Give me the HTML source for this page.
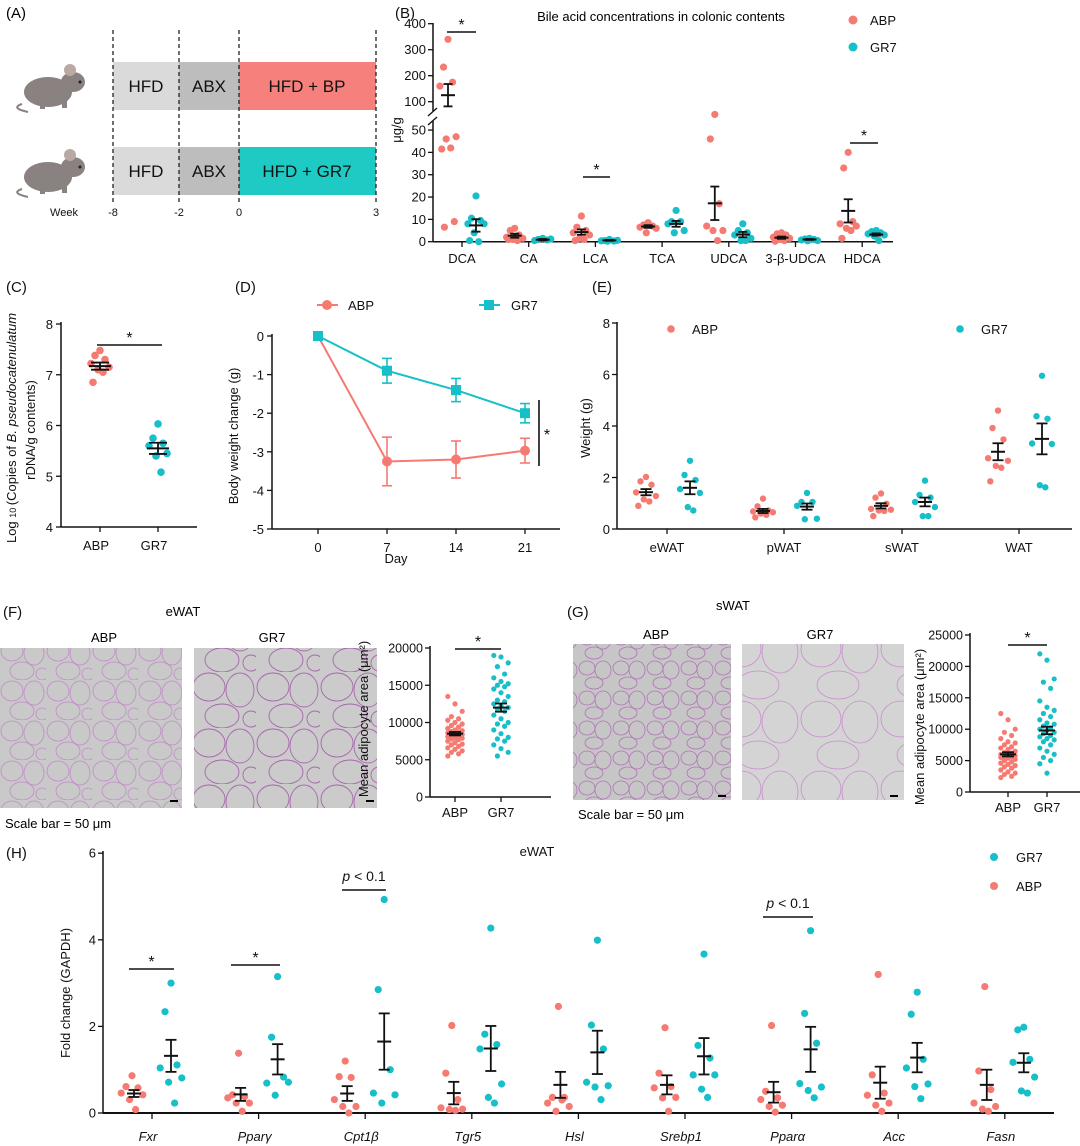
<!DOCTYPE html>
<html><head><meta charset="utf-8">
<style>
html,body{margin:0;padding:0;background:#fff;}
svg{display:block;font-family:"Liberation Sans",Arial,sans-serif;}
</style></head>
<body>
<svg id="fig" xmlns="http://www.w3.org/2000/svg" width="1080" height="1146" viewBox="0 0 1080 1146">
<defs>
<pattern id="cellsA" width="46" height="40" patternUnits="userSpaceOnUse">
<rect width="46" height="40" fill="#c9c9c9"/>
<ellipse cx="12" cy="11" rx="11" ry="10" fill="none" stroke="#c08ac8" stroke-width="0.8"/>
<ellipse cx="34" cy="13" rx="10" ry="12" fill="none" stroke="#c08ac8" stroke-width="0.8"/>
<ellipse cx="22" cy="31" rx="12" ry="9" fill="none" stroke="#c08ac8" stroke-width="0.8"/>
<ellipse cx="42" cy="34" rx="6" ry="6" fill="none" stroke="#c08ac8" stroke-width="0.8"/>
</pattern>
<pattern id="cellsB" width="64" height="56" patternUnits="userSpaceOnUse">
<rect width="64" height="56" fill="#cbcbcb"/>
<ellipse cx="17" cy="15" rx="16" ry="14" fill="none" stroke="#a865ae" stroke-width="0.9"/>
<ellipse cx="48" cy="18" rx="14" ry="17" fill="none" stroke="#a865ae" stroke-width="0.9"/>
<ellipse cx="30" cy="44" rx="17" ry="12" fill="none" stroke="#a865ae" stroke-width="0.9"/>
<ellipse cx="59" cy="47" rx="8" ry="8" fill="none" stroke="#a865ae" stroke-width="0.9"/>
</pattern>
<pattern id="cellsC" width="34" height="30" patternUnits="userSpaceOnUse">
<rect width="34" height="30" fill="#c6c6c6"/>
<ellipse cx="9" cy="8" rx="8" ry="7" fill="none" stroke="#b272b9" stroke-width="0.8"/>
<ellipse cx="25" cy="10" rx="8" ry="9" fill="none" stroke="#b272b9" stroke-width="0.8"/>
<ellipse cx="16" cy="23" rx="9" ry="6" fill="none" stroke="#b272b9" stroke-width="0.8"/>
</pattern>
<pattern id="cellsD" width="80" height="70" patternUnits="userSpaceOnUse">
<rect width="80" height="70" fill="#d4d4d4"/>
<ellipse cx="21" cy="19" rx="20" ry="18" fill="none" stroke="#c98ccf" stroke-width="0.8"/>
<ellipse cx="60" cy="22" rx="18" ry="21" fill="none" stroke="#c98ccf" stroke-width="0.8"/>
<ellipse cx="38" cy="55" rx="21" ry="14" fill="none" stroke="#c98ccf" stroke-width="0.8"/>
</pattern>
</defs>

<!-- Panel A -->
<g>
<text x="6" y="18" font-size="15">(A)</text>
<g fill="#8a8280">
<path d="M22 104 Q10 108 28 112" stroke="#8a8280" stroke-width="2" fill="none"/>
<ellipse cx="48" cy="92" rx="24" ry="15"/>
<ellipse cx="73" cy="82" rx="12" ry="10"/>
<circle cx="70" cy="70" r="6" fill="#b9a8a4"/>
<circle cx="80" cy="82" r="1.5" fill="#222"/>
<rect x="40" y="103" width="5" height="6"/><rect x="62" y="99" width="5" height="9"/>
</g>
<g fill="#8a8280">
<path d="M22 189 Q10 193 28 197" stroke="#8a8280" stroke-width="2" fill="none"/>
<ellipse cx="48" cy="177" rx="24" ry="15"/>
<ellipse cx="73" cy="167" rx="12" ry="10"/>
<circle cx="70" cy="155" r="6" fill="#b9a8a4"/>
<circle cx="80" cy="167" r="1.5" fill="#222"/>
<rect x="40" y="188" width="5" height="6"/><rect x="62" y="184" width="5" height="9"/>
</g>
<rect x="113" y="62" width="66" height="48" fill="#dadada"/>
<rect x="179" y="62" width="60" height="48" fill="#bdbdbd"/>
<rect x="239" y="62" width="137" height="48" fill="#f6817c"/>
<rect x="113" y="147" width="66" height="48" fill="#dadada"/>
<rect x="179" y="147" width="60" height="48" fill="#bdbdbd"/>
<rect x="239" y="147" width="137" height="48" fill="#1ecac4"/>
<g font-size="17" text-anchor="middle" fill="#111">
<text x="146" y="92">HFD</text>
<text x="209" y="92">ABX</text>
<text x="307" y="92">HFD + BP</text>
<text x="146" y="177">HFD</text>
<text x="209" y="177">ABX</text>
<text x="307" y="177">HFD + GR7</text>
</g>
<g stroke="#222" stroke-width="1.3" stroke-dasharray="4,3">
<line x1="113" y1="30" x2="113" y2="203"/><line x1="179" y1="30" x2="179" y2="203"/>
<line x1="239" y1="30" x2="239" y2="203"/><line x1="376" y1="30" x2="376" y2="203"/>
</g>
<g font-size="11" text-anchor="middle" fill="#111">
<text x="64" y="216">Week</text>
<text x="113" y="216">-8</text>
<text x="179" y="216">-2</text>
<text x="239" y="216">0</text>
<text x="376" y="216">3</text>
</g>
</g>

<!-- Panel labels / titles -->
<g font-size="15" fill="#111">
<text x="395" y="18">(B)</text>
<text x="6" y="292">(C)</text>
<text x="235" y="292">(D)</text>
<text x="592" y="292">(E)</text>
<text x="3" y="617">(F)</text>
<text x="567" y="617">(G)</text>
<text x="6" y="858">(H)</text>
</g>
<text x="661" y="21" font-size="13" text-anchor="middle">Bile acid concentrations in colonic contents</text>

<!-- Histology images -->
<g>
<text x="183" y="616" font-size="13" text-anchor="middle">eWAT</text>
<text x="104" y="642" font-size="13" text-anchor="middle">ABP</text>
<text x="272" y="642" font-size="13" text-anchor="middle">GR7</text>
<rect x="0" y="648" width="182" height="160" fill="url(#cellsA)"/>
<rect x="194" y="648" width="183" height="160" fill="url(#cellsB)"/>
<rect x="170" y="800" width="8" height="2" fill="#000"/><rect x="366" y="800" width="8" height="2" fill="#000"/>
<text x="5" y="828" font-size="13">Scale bar = 50 μm</text>
</g>
<g>
<text x="733" y="610" font-size="13" text-anchor="middle">sWAT</text>
<text x="656" y="639" font-size="13" text-anchor="middle">ABP</text>
<text x="820" y="639" font-size="13" text-anchor="middle">GR7</text>
<rect x="573" y="644" width="158" height="156" fill="url(#cellsC)"/>
<rect x="742" y="644" width="162" height="156" fill="url(#cellsD)"/>
<rect x="718" y="795" width="8" height="2" fill="#000"/><rect x="890" y="795" width="8" height="2" fill="#000"/>
<text x="578" y="819" font-size="13">Scale bar = 50 μm</text>
</g>
<g id="charts"></g>
</svg>

<script>
// ---------- data ----------
const ABP_COLOR = '#f47a72', GR7_COLOR = '#17bfc8';
// Panel B
const bCats = ['DCA','CA','LCA','TCA','UDCA','3-β-UDCA','HDCA'];
const bAbp = [[340,233,175,160,47,46,42,41.5,9,6.5],[6,5,3,2,1.5,1,0.5,1],[11.5,6.5,5,4,3,1.5,1,0.5],[8.5,7.5,7,6.5,6,4],[57,46,17,7,5,5,0.5],[4,3.5,3,2,1.5,1,0.5,0.2],[40,33,9,8,7,6,5,1.5]];
const bGr7 = [[20.5,10.5,9.5,8,8,4,0,0.5],[1.5,1,0.8,0.5,1.2],[1,0.5,0.3,0.4,0.6,0.2],[14,9,9,8,5,4],[8,5,4,3,1.5,0.5,0.5],[1.5,1.2,1,0.8,0.5,0.4],[5,4.5,4,3.5,3,2.5,0.5]];
const bAbpMean = [125,2.7,4.3,6.8,17.2,1.8,13.8];
const bAbpSem = [43,0.9,1.2,0.6,7.5,0.5,5.2];
const bGr7Mean = [7.3,0.9,0.6,8,3.2,1,3.2];
const bGr7Sem = [2.8,0.3,0.2,1.3,1.2,0.2,0.5];
const bLowTicks = [0,10,20,30,40,50];
const bHighTicks = [100,200,300,400];
// Panel C
const cCats = ['ABP','GR7'];
const cValues = [[7.48,7.38,7.3,7.22,7.15,7.1,7.05,6.85],[6.03,5.75,5.65,5.6,5.45,5.4,5.08]];
const cMean = [7.17,5.55];
const cSem = [0.07,0.11];
const cTicks = [4,5,6,7,8];
// Panel D
const dDays = [0,7,14,21];
const dAbp = [0,-3.25,-3.2,-2.97];
const dAbpErr = [0,0.63,0.48,0.32];
const dGr7 = [0,-0.9,-1.4,-2.0];
const dGr7Err = [0,0.32,0.3,0.25];
const dTicks = [0,-1,-2,-3,-4,-5];
// Panel E
const eCats = ['eWAT','pWAT','sWAT','WAT'];
const eAbp = [[2.02,1.85,1.72,1.42,1.28,1.15,1.07,0.9],[1.18,0.88,0.72,0.68,0.65,0.6,0.55,0.45],[1.38,1.22,0.98,0.78,0.75,0.72,0.7,0.5],[4.6,3.92,3.48,2.75,2.65,2.45,2.38,1.85]];
const eGr7 = [[2.65,2.1,1.9,1.55,1.4,0.85,0.72],[1.4,1.05,1.05,0.9,0.4,0.38],[1.88,1.32,1.22,1.05,0.85,0.5,0.5],[5.95,4.38,4.28,3.32,3.3,1.7,1.62]];
const eAbpMean = [1.43,0.7,0.9,3.0];
const eAbpSem = [0.12,0.08,0.1,0.33];
const eGr7Mean = [1.6,0.87,1.05,3.5];
const eGr7Sem = [0.25,0.12,0.17,0.6];
const eTicks = [0,2,4,6,8];
// Panel F
const fAbp = [13500,12500,11500,10800,10500,10300,10000,9800,9600,9400,9200,9000,8900,8800,8700,8600,8500,8400,8300,8200,8100,8000,7900,7800,7700,7500,7300,7100,7000,6800,6600,6400,6200,6000,5800,5500];
const fGr7 = [19000,18800,18000,17500,16500,16000,15500,15200,15000,14800,14500,14000,13500,13000,12800,12500,12200,12000,11800,11500,11000,10500,10000,9800,9500,9000,8500,8000,7800,7500,7000,6500,6000,5500];
const fMean = [8500,12000];
const fSem = [230,550];
const fTicks = [0,5000,10000,15000,20000];
// Panel G
const gAbp = [12500,11500,10000,9500,9000,8500,8000,7800,7500,7200,7000,6800,6500,6300,6200,6000,5900,5800,5700,5600,5500,5400,5200,5000,4800,4600,4400,4200,4000,3800,3500,3200,3000,2800,2500,2300];
const gGr7 = [22000,21000,18000,17500,16500,14500,13500,13000,12500,12000,11500,11000,10800,10500,10200,10000,9800,9500,9300,9000,8800,8500,8300,8000,7500,7000,6500,6000,5500,5000,4500,3000];
const gMean = [6000,9800];
const gSem = [330,600];
const gTicks = [0,5000,10000,15000,20000,25000];
// Panel H
const hCats = ['Fxr','Pparγ','Cpt1β','Tgr5','Hsl','Srebp1','Pparα','Acc','Fasn'];
const hAbp = [[0.86,0.61,0.58,0.46,0.42,0.31,0.08],[1.38,0.42,0.38,0.35,0.23,0.23,0.04],[1.2,0.84,0.82,0.31,0.15,0.15,0],[2.02,0.92,0.31,0.12,0.09,0.08,0.06],[2.46,0.36,0.36,0.23,0.15,0.04,0.3],[1.97,0.92,0.61,0.58,0.36,0.35,0.04],[2.02,0.5,0.35,0.31,0.18,0.15,0.02],[3.2,0.88,0.46,0.41,0.23,0.18,0.04],[2.92,0.97,0.54,0.23,0.15,0.09,0.04]];
const hGr7 = [[3.0,2.34,1.11,1.04,0.81,0.71,0.23],[3.15,1.75,0.83,0.69,0.71,0.41],[4.93,2.85,1.0,0.46,0.42,0.23],[4.27,1.82,1.58,1.48,0.67,0.36,0.23],[3.99,2.03,1.48,0.71,0.63,0.6,0.31],[3.67,1.56,1.27,0.88,0.88,0.55,0.36],[4.21,2.3,1.61,0.68,0.6,0.52,0.35],[2.79,2.28,1.24,1.04,0.67,0.61,0.33],[1.98,1.92,1.24,1.17,0.83,0.51,0.46]];
const hAbpMean = [0.45,0.43,0.45,0.46,0.65,0.65,0.48,0.7,0.65];
const hAbpSem = [0.08,0.15,0.17,0.26,0.3,0.22,0.24,0.37,0.35];
const hGr7Mean = [1.32,1.24,1.65,1.49,1.4,1.31,1.47,1.28,1.16];
const hGr7Sem = [0.37,0.35,0.65,0.52,0.5,0.42,0.52,0.34,0.22];
const hTicks = [0,2,4,6];

// ---------- helpers ----------
const NS = 'http://www.w3.org/2000/svg';
const root = document.getElementById('charts');
function el(tag, attrs, name, parent) {
  const e = document.createElementNS(NS, tag);
  for (const k in attrs) e.setAttribute(k, attrs[k]);
  
  
  (parent || root).appendChild(e);
  return e;
}
function txt(x, y, s, size, anchor, name, extra) {
  const a = Object.assign({x: x, y: y, 'font-size': size, 'text-anchor': anchor || 'middle', fill: '#111'}, extra || {});
  const t = el('text', a, name);
  t.textContent = s;
  return t;
}
function line(x1, y1, x2, y2, w, name, color) {
  return el('line', {x1: x1, y1: y1, x2: x2, y2: y2, stroke: color || '#111', 'stroke-width': w}, name);
}
function dot(x, y, r, c, name) { return el('circle', {cx: x, cy: y, r: r, fill: c}, name); }
function errBar(x, yMean, yLo, yHi, mw, cw, name) {
  line(x, yLo, x, yHi, 1.8, name + '-whisker');
  line(x - mw / 2, yMean, x + mw / 2, yMean, 2, name + '-mean');
  line(x - cw / 2, yLo, x + cw / 2, yLo, 1.8, name + '-cap-low');
  line(x - cw / 2, yHi, x + cw / 2, yHi, 1.8, name + '-cap-high');
}
function sig(x1, x2, y, label, name, italicP) {
  line(x1, y, x2, y, 1.6, name + '-line');
  if (italicP) {
    const t = txt((x1 + x2) / 2, y - 9, '', 14, 'middle', name + '-label');
    const s1 = document.createElementNS(NS, 'tspan'); s1.setAttribute('font-style', 'italic'); s1.textContent = 'p'; t.appendChild(s1);
    const s2 = document.createElementNS(NS, 'tspan'); s2.textContent = ' < 0.1'; t.appendChild(s2);
  } else txt((x1 + x2) / 2, y - 2, label, 16, 'middle', name + '-star');
}
const jit = [0, -5, 5, -9, 9, -2, 3, -7, 7, -4];

// ---------- Panel B ----------
(function () {
  const ax = 433, x0 = 462, step = 66.7, xEnd = 893;
  const yB = v => v <= 60 ? 241.7 - v * 2.233 : 101.7 - (v - 100) * 0.26;
  line(ax, 23, ax, 111, 1.5, 'b-y-axis-upper');
  line(ax, 121, ax, 242, 1.5, 'b-y-axis-lower');
  line(ax - 5, 116, ax + 4, 108, 1.3, 'b-axis-break-1');
  line(ax - 5, 125, ax + 4, 117, 1.3, 'b-axis-break-2');
  line(ax, 241.7, xEnd, 241.7, 1.5, 'b-x-axis');
  bLowTicks.concat(bHighTicks).forEach(v => {
    line(ax - 5, yB(v), ax, yB(v), 1.3, 'b-y-tick');
    txt(ax - 7, yB(v) + 4.5, String(v), 13, 'end', 'b-y-tick-label');
  });
  txt(0, 0, 'μg/g', 13, 'middle', 'b-y-axis-title', {transform: 'translate(401,130) rotate(-90)'});
  bCats.forEach((c, i) => {
    const cx = x0 + i * step;
    line(cx, 241.7, cx, 247, 1.3, 'b-x-tick');
    txt(cx, 263, c, 13, 'middle', 'b-x-tick-label');
    bAbp[i].forEach((v, j) => dot(cx - 14 + jit[j % 10] * 0.9, yB(v), 3.6, ABP_COLOR, 'b-abp-point'));
    bGr7[i].forEach((v, j) => dot(cx + 14 + jit[j % 10] * 0.9, yB(v), 3.6, GR7_COLOR, 'b-gr7-point'));
    errBar(cx - 14, yB(bAbpMean[i]), yB(bAbpMean[i] - bAbpSem[i]), yB(bAbpMean[i] + bAbpSem[i]), 14, 9, 'b-abp-errorbar');
    errBar(cx + 14, yB(bGr7Mean[i]), yB(bGr7Mean[i] - bGr7Sem[i]), yB(bGr7Mean[i] + bGr7Sem[i]), 14, 9, 'b-gr7-errorbar');
  });
  sig(447, 476, 32, '*', 'b-sig-dca');
  sig(583, 610, 177, '*', 'b-sig-lca');
  sig(850, 878, 143, '*', 'b-sig-hdca');
  dot(853, 20, 4.5, ABP_COLOR, 'b-legend-abp-marker');
  txt(870, 25, 'ABP', 13, 'start', 'b-legend-abp-label');
  dot(853, 47, 4.5, GR7_COLOR, 'b-legend-gr7-marker');
  txt(870, 52, 'GR7', 13, 'start', 'b-legend-gr7-label');
})();

// ---------- Panel C ----------
(function () {
  const ax = 61, yC = v => 527 - (v - 4) * 50.75, xs = [100, 158];
  line(ax, 322, ax, 527, 1.5, 'c-y-axis');
  line(ax, 527, 197, 527, 1.5, 'c-x-axis');
  cTicks.forEach(v => { line(ax - 5, yC(v), ax, yC(v), 1.3, 'c-y-tick'); txt(ax - 8, yC(v) + 5, String(v), 13, 'end', 'c-y-tick-label'); });
  cCats.forEach((c, i) => {
    line(xs[i], 527, xs[i], 532, 1.3, 'c-x-tick');
    txt(xs[i] - 4, 550, c, 13, 'middle', 'c-x-tick-label');
    const col = i === 0 ? ABP_COLOR : GR7_COLOR;
    cValues[i].forEach((v, j) => dot(xs[i] + jit[j % 10], yC(v), 3.8, col, 'c-point'));
    errBar(xs[i], yC(cMean[i]), yC(cMean[i] - cSem[i]), yC(cMean[i] + cSem[i]), 22, 18, 'c-errorbar');
  });
  sig(97, 162, 345, '*', 'c-sig');
  const t = txt(0, 0, '', 13, 'middle', 'c-y-axis-title-1', {transform: 'translate(16,428) rotate(-90)'});
  const a = document.createElementNS(NS, 'tspan'); a.textContent = 'Log '; t.appendChild(a);
  const b = document.createElementNS(NS, 'tspan'); b.setAttribute('font-size', '9'); b.textContent = '10 '; t.appendChild(b);
  const c2 = document.createElementNS(NS, 'tspan'); c2.textContent = '(Copies of  '; t.appendChild(c2);
  const d = document.createElementNS(NS, 'tspan'); d.setAttribute('font-style', 'italic'); d.textContent = 'B. pseudocatenulatum'; t.appendChild(d);
  txt(0, 0, 'rDNA/g contents)', 13, 'middle', 'c-y-axis-title-2', {transform: 'translate(35,430) rotate(-90)'});
})();

// ---------- Panel D ----------
(function () {
  const ax = 272, xD = d => 318 + d * (525 - 318) / 21, yD = v => 336 - v * 38.6;
  line(ax, 334, ax, 529, 1.5, 'd-y-axis');
  line(ax, 529, 560, 529, 1.5, 'd-x-axis');
  dTicks.forEach(v => { line(ax - 5, yD(v), ax, yD(v), 1.3, 'd-y-tick'); txt(ax - 8, yD(v) + 5, String(v), 13, 'end', 'd-y-tick-label'); });
  dDays.forEach(d => { line(xD(d), 529, xD(d), 534, 1.3, 'd-x-tick'); txt(xD(d), 552, String(d), 13, 'middle', 'd-x-tick-label'); });
  txt(396, 563, 'Day', 13, 'middle', 'd-x-axis-title');
  txt(0, 0, 'Body weight change (g)', 13, 'middle', 'd-y-axis-title', {transform: 'translate(238,436) rotate(-90)'});
  const drawSeries = (vals, errs, col, sq, nm) => {
    el('polyline', {points: dDays.map((d, i) => xD(d) + ',' + yD(vals[i])).join(' '), fill: 'none', stroke: col, 'stroke-width': 2}, nm + '-line');
    dDays.forEach((d, i) => {
      const x = xD(d);
      if (errs[i] > 0) {
        line(x, yD(vals[i] - errs[i]), x, yD(vals[i] + errs[i]), 1.6, nm + '-errorbar', col);
        line(x - 5, yD(vals[i] - errs[i]), x + 5, yD(vals[i] - errs[i]), 1.6, nm + '-errorcap', col);
        line(x - 5, yD(vals[i] + errs[i]), x + 5, yD(vals[i] + errs[i]), 1.6, nm + '-errorcap', col);
      }
      if (sq) el('rect', {x: x - 5, y: yD(vals[i]) - 5, width: 10, height: 10, fill: col}, nm + '-marker');
      else dot(x, yD(vals[i]), 5, col, nm + '-marker');
    });
  };
  drawSeries(dAbp, dAbpErr, ABP_COLOR, false, 'd-abp');
  drawSeries(dGr7, dGr7Err, GR7_COLOR, true, 'd-gr7');
  line(539, 400, 539, 466, 1.6, 'd-sig-line');
  txt(547, 440, '*', 16, 'middle', 'd-sig-star');
  line(317, 305, 338, 305, 2, 'd-legend-abp-line', ABP_COLOR);
  dot(327, 305, 5, ABP_COLOR, 'd-legend-abp-marker');
  txt(348, 310, 'ABP', 13, 'start', 'd-legend-abp-label');
  line(479, 305, 500, 305, 2, 'd-legend-gr7-line', GR7_COLOR);
  el('rect', {x: 484, y: 300, width: 10, height: 10, fill: GR7_COLOR}, 'd-legend-gr7-marker');
  txt(511, 310, 'GR7', 13, 'start', 'd-legend-gr7-label');
})();

// ---------- Panel E ----------
(function () {
  const ax = 617, yE = v => 529 - v * 25.75, xs = [667, 784, 902, 1019];
  line(ax, 322, ax, 529, 1.5, 'e-y-axis');
  line(ax, 529, 1072, 529, 1.5, 'e-x-axis');
  eTicks.forEach(v => { line(ax - 5, yE(v), ax, yE(v), 1.3, 'e-y-tick'); txt(ax - 7, yE(v) + 5, String(v), 13, 'end', 'e-y-tick-label'); });
  txt(0, 0, 'Weight (g)', 13, 'middle', 'e-y-axis-title', {transform: 'translate(590,428) rotate(-90)'});
  eCats.forEach((c, i) => {
    line(xs[i], 529, xs[i], 534, 1.3, 'e-x-tick');
    txt(xs[i], 552, c, 13, 'middle', 'e-x-tick-label');
    eAbp[i].forEach((v, j) => dot(xs[i] - 21 + jit[j % 10] * 1.1, yE(v), 3.2, ABP_COLOR, 'e-abp-point'));
    eGr7[i].forEach((v, j) => dot(xs[i] + 23 + jit[j % 10] * 1.1, yE(v), 3.2, GR7_COLOR, 'e-gr7-point'));
    errBar(xs[i] - 21, yE(eAbpMean[i]), yE(eAbpMean[i] - eAbpSem[i]), yE(eAbpMean[i] + eAbpSem[i]), 14, 11, 'e-abp-errorbar');
    errBar(xs[i] + 23, yE(eGr7Mean[i]), yE(eGr7Mean[i] - eGr7Sem[i]), yE(eGr7Mean[i] + eGr7Sem[i]), 14, 11, 'e-gr7-errorbar');
  });
  dot(671, 329, 3.8, ABP_COLOR, 'e-legend-abp-marker');
  txt(692, 334, 'ABP', 13, 'start', 'e-legend-abp-label');
  dot(960, 329, 3.8, GR7_COLOR, 'e-legend-gr7-marker');
  txt(981, 334, 'GR7', 13, 'start', 'e-legend-gr7-label');
})();

// ---------- Panels F & G scatter ----------
function adipo(ax, y0, yTop, maxV, xEnd, xs, data, means, sems, ticks, sigY, titleX, titleY, pfx) {
  const yS = v => y0 - v * (y0 - yTop) / maxV;
  line(ax, yTop - 2, ax, y0, 1.5, pfx + '-y-axis');
  line(ax, y0, xEnd, y0, 1.5, pfx + '-x-axis');
  ticks.forEach(v => { line(ax - 5, yS(v), ax, yS(v), 1.3, pfx + '-y-tick'); txt(ax - 7, yS(v) + 4.5, String(v), 12.5, 'end', pfx + '-y-tick-label'); });
  ['ABP', 'GR7'].forEach((c, i) => {
    line(xs[i], y0, xs[i], y0 + 5, 1.3, pfx + '-x-tick');
    txt(xs[i], y0 + 20, c, 13, 'middle', pfx + '-x-tick-label');
    const col = i === 0 ? ABP_COLOR : GR7_COLOR;
    data[i].forEach((v, j) => dot(xs[i] + ((j * 7) % 5 - 2) * 3.6, yS(v), 2.6, col, pfx + '-point'));
    errBar(xs[i], yS(means[i]), yS(means[i] - sems[i]), yS(means[i] + sems[i]), 16, 12, pfx + '-errorbar');
  });
  sig(xs[0], xs[1], sigY, '*', pfx + '-sig');
  txt(0, 0, 'Mean adipocyte area  (μm²)', 13, 'middle', pfx + '-y-axis-title', {transform: 'translate(' + titleX + ',' + titleY + ') rotate(-90)'});
}
adipo(430, 797, 648, 20000, 551, [455, 501], [fAbp, fGr7], fMean, fSem, fTicks, 649, 368, 719, 'f');
adipo(970, 792, 635, 25000, 1080, [1008, 1047], [gAbp, gGr7], gMean, gSem, gTicks, 645, 924, 727, 'g');

// ---------- Panel H ----------
(function () {
  const ax = 103, yH = v => 1113 - v * 43.3, x0 = 152, step = 106.6;
  line(ax, 851, ax, 1113, 1.5, 'h-y-axis');
  line(ax, 1113, 1054, 1113, 2, 'h-x-axis');
  hTicks.forEach(v => { line(ax - 5, yH(v), ax, yH(v), 1.3, 'h-y-tick'); txt(ax - 7, yH(v) + 4.5, String(v), 13, 'end', 'h-y-tick-label'); });
  txt(0, 0, 'Fold change (GAPDH)', 13, 'middle', 'h-y-axis-title', {transform: 'translate(70,993) rotate(-90)'});
  txt(537, 856, 'eWAT', 13, 'middle', 'h-title');
  hCats.forEach((c, i) => {
    const cx = x0 + i * step;
    line(cx, 1113, cx, 1119, 1.3, 'h-x-tick');
    txt(cx - 4, 1141, c, 13, 'middle', 'h-x-tick-label', {'font-style': 'italic'});
    hAbp[i].forEach((v, j) => dot(cx - 20 + jit[j % 10] * 1.2, yH(v), 3.6, ABP_COLOR, 'h-abp-point'));
    hGr7[i].forEach((v, j) => dot(cx + 19 + jit[j % 10] * 1.2, yH(v), 3.6, GR7_COLOR, 'h-gr7-point'));
    errBar(cx - 18, yH(hAbpMean[i]), yH(hAbpMean[i] - hAbpSem[i]), yH(hAbpMean[i] + hAbpSem[i]), 14, 11, 'h-abp-errorbar');
    errBar(cx + 19, yH(hGr7Mean[i]), yH(hGr7Mean[i] - hGr7Sem[i]), yH(hGr7Mean[i] + hGr7Sem[i]), 14, 11, 'h-gr7-errorbar');
  });
  sig(129, 174, 969, '*', 'h-sig-fxr');
  sig(231, 280, 965, '*', 'h-sig-ppparg');
  sig(342, 386, 890, '', 'h-sig-cpt1b', true);
  sig(763, 813, 917, '', 'h-sig-pppara', true);
  dot(994, 857, 4, GR7_COLOR, 'h-legend-gr7-marker');
  txt(1016, 862, 'GR7', 13, 'start', 'h-legend-gr7-label');
  dot(994, 886, 4, ABP_COLOR, 'h-legend-abp-marker');
  txt(1016, 891, 'ABP', 13, 'start', 'h-legend-abp-label');
})();
</script>
</body></html>
